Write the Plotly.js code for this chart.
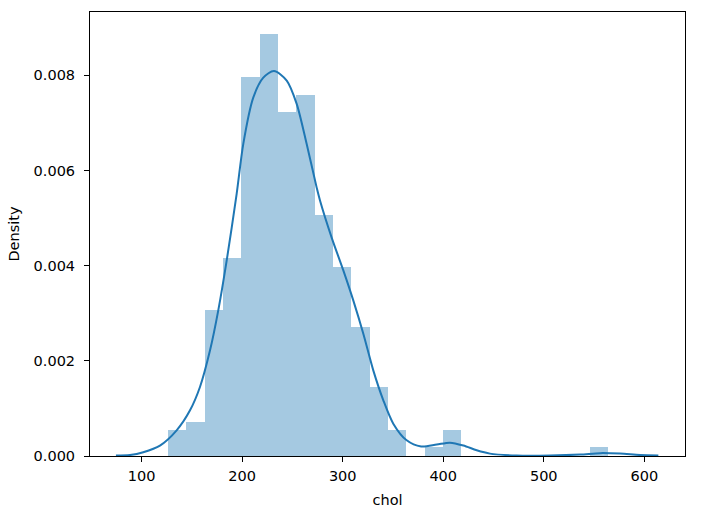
<!DOCTYPE html>
<html>
<head>
<meta charset="utf-8">
<script src="https://cdn.plot.ly/plotly-3.0.1.min.js"></script>
<style>html,body{margin:0;padding:0;background:#fff;}</style>
</head>
<body>
<div id="chart" style="width:702px;height:515px;"></div>
<script>
// Histogram bin edges (chol) and density heights
const binEdges = [126, 144.25, 162.5, 180.75, 199, 217.25, 235.5, 253.75, 272, 290.25,
  308.5, 326.75, 345, 363.25, 381.5, 399.75, 418, 436.25, 454.5, 472.75, 491, 509.25,
  527.5, 545.75, 564];
const binDensity = [0.000543, 0.000723, 0.003074, 0.004159, 0.007957, 0.008861, 0.007234,
  0.007595, 0.005063, 0.003978, 0.002713, 0.001447, 0.000543, 0, 0.000181, 0.000543,
  0, 0, 0, 0, 0, 0, 0, 0.000181];

// KDE curve points
const kdeX = [74.4, 88.4, 101.6, 118.2, 134.8, 148.1, 158.0, 168.0, 176.2, 184.6, 194.5,
  201.1, 211.0, 221.0, 231.6, 244.3, 254.2, 264.1, 274.1, 277.4, 289.0, 300.6, 310.5,
  320.5, 330.4, 340.4, 350.3, 363.6, 378.0, 393.5, 406.7, 420.0, 433.3, 446.5, 473.1,
  506.2, 536.1, 556.0, 575.9, 595.8, 614.0];
const kdeY = [0.00001, 0.00002, 0.00008, 0.00022, 0.00054, 0.00096, 0.00145, 0.00222,
  0.00306, 0.00411, 0.00551, 0.00656, 0.00753, 0.00795, 0.00809, 0.00789, 0.00740,
  0.00656, 0.00564, 0.00537, 0.00459, 0.00390, 0.00327, 0.00257, 0.00180, 0.00117,
  0.00068, 0.00033, 0.00020, 0.00024, 0.00028, 0.00022, 0.00012, 0.00005, 0.00001,
  0.00001, 0.00003, 0.00006, 0.00005, 0.00002, 0.00001];

const xTicks = [100, 200, 300, 400, 500, 600];
const yTicks = [0, 0.002, 0.004, 0.006, 0.008];

const centers = [], widths = [];
for (let i = 0; i < binDensity.length; i++) {
  centers.push((binEdges[i] + binEdges[i + 1]) / 2);
  widths.push(binEdges[i + 1] - binEdges[i]);
}

const font = {family: 'DejaVu Sans', size: 14.5, color: '#000'};

const traces = [
  {
    type: 'bar', x: centers, y: binDensity, width: widths,
    marker: {color: 'rgba(31,119,180,0.4)', line: {width: 0}},
    hoverinfo: 'skip'
  },
  {
    type: 'scatter', mode: 'lines', x: kdeX, y: kdeY,
    line: {color: '#1f77b4', width: 2, shape: 'spline', smoothing: 0.8},
    hoverinfo: 'skip'
  }
];

const layout = {
  width: 702, height: 515,
  margin: {l: 90, r: 17, t: 12, b: 59},
  paper_bgcolor: '#fff', plot_bgcolor: '#fff',
  showlegend: false, bargap: 0,
  font: font,
  xaxis: {
    range: [48.6, 640.5], tickvals: xTicks, ticktext: xTicks.map(String),
    showgrid: false, zeroline: false, showline: true, linecolor: '#000', linewidth: 1,
    mirror: true, ticks: 'outside', ticklen: 5, tickwidth: 1, tickcolor: '#000',
    tickfont: font, ticklabelstandoff: 2,
    title: {text: 'chol', font: font, standoff: 11}
  },
  yaxis: {
    range: [0, 0.00933], tickvals: yTicks, ticktext: yTicks.map(v => v.toFixed(3)),
    showgrid: false, zeroline: false, showline: true, linecolor: '#000', linewidth: 1,
    mirror: true, ticks: 'outside', ticklen: 5, tickwidth: 1, tickcolor: '#000',
    tickfont: font, ticklabelstandoff: 6,
    title: {text: 'Density', font: font, standoff: 10}
  }
};

Plotly.newPlot('chart', traces, layout, {staticPlot: true, displayModeBar: false});
</script>
</body>
</html>
